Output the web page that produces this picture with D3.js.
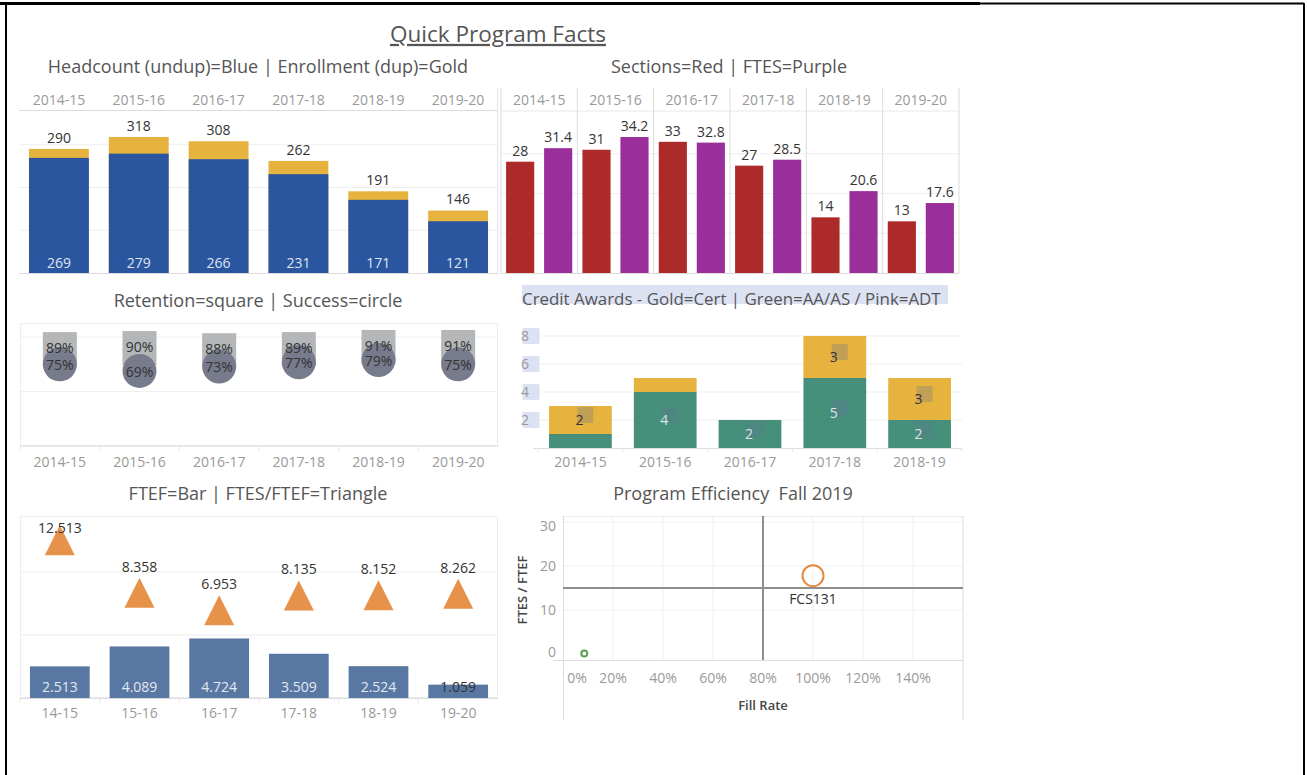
<!DOCTYPE html>
<html>
<head>
<meta charset="utf-8">
<script src="https://cdn.jsdelivr.net/npm/d3@7"></script>
<style>
	body { margin: 0; background: #fff; }
	svg { display: block; font-family: "Open Sans", sans-serif; }
	text { white-space: pre; }
</style>
</head>
<body>
<svg id="chart" width="1307" height="775"></svg>
<script>
/*
	Quick Program Facts
	===================
	Six small tableau-style panels drawn with d3
*/

// ---- data ----
const years = ["2014-15", "2015-16", "2016-17", "2017-18", "2018-19", "2019-20"];
const shortYears = ["14-15", "15-16", "16-17", "17-18", "18-19", "19-20"];
const headcount = [269, 279, 266, 231, 171, 121];
const enrollment = [290, 318, 308, 262, 191, 146];
const sections = [28, 31, 33, 27, 14, 13];
const ftes = [31.4, 34.2, 32.8, 28.5, 20.6, 17.6];
const retention = [0.89, 0.90, 0.88, 0.89, 0.91, 0.91];
const success = [0.75, 0.69, 0.73, 0.77, 0.79, 0.75];
const awardYears = ["2014-15", "2015-16", "2016-17", "2017-18", "2018-19"];
const degreeAwards = [1, 4, 2, 5, 2];
const certAwards = [2, 1, 0, 3, 3];
const awardTicks = [2, 4, 6, 8];
const ftef = [2.513, 4.089, 4.724, 3.509, 2.524, 1.059];
const ftesPerFtef = [12.513, 8.358, 6.953, 8.135, 8.152, 8.262];
const programs = ["FCS131", ""];
const fillRate = [1.0, 0.085];
const efficiency = [17.8, 0.1];
const fillTicks = [0, 0.2, 0.4, 0.6, 0.8, 1.0, 1.2, 1.4];
const effTicks = [0, 10, 20, 30];

const COLORS = {
	blue: "#2a56a0", gold: "#e6b33e", red: "#ad2a2b", purple: "#9a2e9a",
	square: "#b4b6b7", circle: "#777b8b", green: "#46907b", steel: "#5878a3",
	tri: "#e6924a", title: "#555", axis: "#999", label: "#333",
	grid: "#efefef", line: "#dcdcdc"
};
const FS = 14;       // small text
const TFS = 18;      // panel titles

const svg = d3.select("#chart");

function hline(g, x1, x2, y, color, w){
	g.append("line").attr("x1", x1).attr("x2", x2).attr("y1", y).attr("y2", y)
		.attr("stroke", color).attr("stroke-width", w || 1);
}
function vline(g, x, y1, y2, color, w){
	g.append("line").attr("x1", x).attr("x2", x).attr("y1", y1).attr("y2", y2)
		.attr("stroke", color).attr("stroke-width", w || 1);
}
function label(g, x, y, txt, size, color, anchor){
	return g.append("text").attr("x", x).attr("y", y).attr("dy", "0.35em")
		.attr("text-anchor", anchor || "middle").attr("font-size", size)
		.attr("fill", color).text(txt);
}

// frame
hline(svg, 0, 980, 3.5, "#000", 3);
hline(svg, 980, 1304, 3.5, "#000", 2);
vline(svg, 6, 3, 775, "#000", 2);
vline(svg, 1304, 3, 775, "#000", 2);

label(svg, 498, 34, "Quick Program Facts", 22.5, COLORS.title).attr("text-decoration", "underline");

// ---- headcount / enrollment ----
const g1 = svg.append("g");
label(g1, 258, 67, "Headcount (undup)=Blue | Enrollment (dup)=Gold", TFS, COLORS.title);
const x1 = d3.scaleBand().domain(years).range([19, 498]).paddingInner(0.25).paddingOuter(0.125);
const y1 = d3.scaleLinear().domain([0, 374]).range([273, 113]);
[100, 200, 300].forEach(t => hline(g1, 19, 498, y1(t), COLORS.grid));
hline(g1, 19, 498, 110.5, COLORS.line);
hline(g1, 19, 498, 273.5, COLORS.line);
years.forEach(y => label(g1, x1(y) + x1.bandwidth() / 2, 100, y, FS, COLORS.axis));
g1.selectAll(".enr").data(years).enter().append("rect")
	.attr("x", d => x1(d)).attr("width", x1.bandwidth())
	.attr("y", (d, i) => y1(enrollment[i])).attr("height", (d, i) => y1(0) - y1(enrollment[i]))
	.attr("fill", COLORS.gold);
g1.selectAll(".hc").data(years).enter().append("rect")
	.attr("x", d => x1(d)).attr("width", x1.bandwidth())
	.attr("y", (d, i) => y1(headcount[i])).attr("height", (d, i) => y1(0) - y1(headcount[i]))
	.attr("fill", COLORS.blue);
years.forEach((y, i) => {
	const cx = x1(y) + x1.bandwidth() / 2;
	label(g1, cx, y1(enrollment[i]) - 11, enrollment[i], FS, COLORS.label);
	label(g1, cx, 263, headcount[i], FS, "#dfe4ee");
});

// ---- sections / ftes ----
const g2 = svg.append("g");
label(g2, 729, 67, "Sections=Red | FTES=Purple", TFS, COLORS.title);
const x2 = d3.scaleBand().domain(years).range([501, 959]);
const x2i = d3.scaleBand().domain(["sections", "ftes"]).range([0, x2.bandwidth()]).paddingInner(0.26).paddingOuter(0.134);
const y2 = d3.scaleLinear().domain([0, 40.25]).range([273, 113]);
[10, 20, 30].forEach(t => hline(g2, 501, 959, y2(t), COLORS.grid));
hline(g2, 501, 959, 111, "#e8e8e8");
hline(g2, 501, 959, 273.5, COLORS.line);
years.forEach(y => vline(g2, x2(y), 88, 274, COLORS.line));
vline(g2, 959, 88, 274, COLORS.line);
vline(g2, 497.5, 88, 274, "#e4e4e4");
years.forEach((y, i) => {
	label(g2, x2(y) + x2.bandwidth() / 2, 100, y, FS, COLORS.axis);
	const vals = [["sections", sections[i], COLORS.red], ["ftes", ftes[i], COLORS.purple]];
	vals.forEach(([k, v, c]) => {
		g2.append("rect").attr("x", x2(y) + x2i(k)).attr("width", x2i.bandwidth())
			.attr("y", y2(v)).attr("height", y2(0) - y2(v)).attr("fill", c);
		label(g2, x2(y) + x2i(k) + x2i.bandwidth() / 2, y2(v) - 11, v, FS, COLORS.label);
	});
});

// ---- retention / success ----
const g3 = svg.append("g");
label(g3, 258, 301, "Retention=square | Success=circle", TFS, COLORS.title);
const x3 = d3.scaleBand().domain(years).range([20, 498]);
const y3 = d3.scaleLinear().domain([0, 1.13]).range([446, 323]);
g3.append("rect").attr("x", 20.5).attr("y", 323.5).attr("width", 477).attr("height", 122)
	.attr("fill", "none").attr("stroke", "#ececec");
[0.5, 1.0].forEach(t => hline(g3, 20, 498, y3(t), COLORS.grid));
hline(g3, 20, 498, 446, COLORS.line);
years.forEach(y => vline(g3, x3(y), 446, 451, "#e6e6e6"));
years.forEach(y => label(g3, x3(y) + x3.bandwidth() / 2, 462, y, FS, COLORS.axis));
const sq = 34;
g3.selectAll(".sq").data(years).enter().append("rect")
	.attr("x", d => x3(d) + x3.bandwidth() / 2 - sq / 2)
	.attr("y", (d, i) => y3(retention[i]) - sq / 2)
	.attr("width", sq).attr("height", sq).attr("fill", COLORS.square);
g3.selectAll(".ci").data(years).enter().append("circle")
	.attr("cx", d => x3(d) + x3.bandwidth() / 2)
	.attr("cy", (d, i) => y3(success[i])).attr("r", 17).attr("fill", COLORS.circle);
const pct = d3.format(".0%");
years.forEach((y, i) => {
	const cx = x3(y) + x3.bandwidth() / 2;
	label(g3, cx, y3(retention[i]) - 1, pct(retention[i]), FS, COLORS.label);
	label(g3, cx, y3(success[i]) + 1, pct(success[i]), FS, COLORS.label);
});

// ---- credit awards ----
const g4 = svg.append("g");
g4.append("rect").attr("x", 522).attr("y", 285).attr("width", 426).attr("height", 19).attr("fill", "#dde2f3");
label(g4, 522, 299, "Credit Awards - Gold=Cert | Green=AA/AS / Pink=ADT", 16.9, COLORS.title, "start");
const x4 = d3.scaleBand().domain(awardYears).range([538, 962]).paddingInner(0.26).paddingOuter(0.13);
const y4 = d3.scaleLinear().domain([0, 9]).range([448, 322]);
awardTicks.forEach(t => {
	hline(g4, 540, 962, y4(t), COLORS.grid);
	g4.append("rect").attr("x", 522.5).attr("y", y4(t) - 8).attr("width", 17).attr("height", 16).attr("fill", "#dde2f3");
	label(g4, 525, y4(t), t, FS, COLORS.axis);
});
hline(g4, 533, 962, 448.5, COLORS.line);
awardYears.forEach(y => vline(g4, x4(y) - x4.step() * 0.13, 448, 452, "#e6e6e6"));
vline(g4, 962, 448, 452, "#e6e6e6");
awardYears.forEach(y => label(g4, x4(y) + x4.bandwidth() / 2, 462.5, y, FS, COLORS.axis));
const stack = d3.stack().keys(["degree", "cert"])(awardYears.map((y, i) => ({year: y, degree: degreeAwards[i], cert: certAwards[i]})));
const awardColor = {degree: COLORS.green, cert: COLORS.gold};
stack.forEach(layer => {
	layer.forEach((seg, i) => {
		const v = seg[1] - seg[0];
		if(v <= 0) return;
		const y = awardYears[i];
		g4.append("rect").attr("x", x4(y)).attr("width", x4.bandwidth())
			.attr("y", y4(seg[1])).attr("height", y4(seg[0]) - y4(seg[1]))
			.attr("fill", awardColor[layer.key]);
	});
});
stack.forEach(layer => {
	layer.forEach((seg, i) => {
		const v = seg[1] - seg[0];
		if(v < 2) return;
		const cx = x4(awardYears[i]) + x4.bandwidth() / 2;
		const cy = y4((seg[0] + seg[1]) / 2);
		g4.append("rect").attr("x", cx - 3).attr("y", cy - 13).attr("width", 16).attr("height", 16)
			.attr("fill", "#646a9a").attr("opacity", 0.28);
		label(g4, cx - 1, cy, v, FS, layer.key == "cert" ? COLORS.label : "#dde6e6");
	});
});

// ---- ftef / ftes per ftef ----
const g5 = svg.append("g");
label(g5, 258, 494, "FTEF=Bar | FTES/FTEF=Triangle", TFS, COLORS.title);
const x5 = d3.scaleBand().domain(shortYears).range([20, 498]).paddingInner(0.25).paddingOuter(0.125);
const y5 = d3.scaleLinear().domain([0, 14.44]).range([698, 516]);
g5.append("rect").attr("x", 20.5).attr("y", 516.5).attr("width", 477).attr("height", 181)
	.attr("fill", "none").attr("stroke", "#ececec");
[5, 10].forEach(t => hline(g5, 20, 498, y5(t), COLORS.grid));
hline(g5, 20, 498, 698.5, COLORS.line);
shortYears.forEach(y => vline(g5, x5(y) - x5.step() * 0.125, 698, 703, "#e6e6e6"));
shortYears.forEach(y => label(g5, x5(y) + x5.bandwidth() / 2, 713, y, FS, COLORS.axis));
g5.selectAll(".ftef").data(shortYears).enter().append("rect")
	.attr("x", d => x5(d)).attr("width", x5.bandwidth())
	.attr("y", (d, i) => y5(ftef[i])).attr("height", (d, i) => y5(0) - y5(ftef[i]))
	.attr("fill", COLORS.steel);
const tri = d3.line();
shortYears.forEach((y, i) => {
	const cx = x5(y) + x5.bandwidth() / 2;
	const cy = y5(ftesPerFtef[i]);
	g5.append("path").attr("d", tri([[cx - 15, cy + 15], [cx, cy - 15], [cx + 15, cy + 15]]) + "Z")
		.attr("fill", COLORS.tri);
	label(g5, cx, Math.max(cy - 26, 528), ftesPerFtef[i].toFixed(3), FS, COLORS.label);
	label(g5, cx, 687, ftef[i].toFixed(3), FS, y5(ftef[i]) > 675 ? COLORS.label : "#e4e8f0");
});

// ---- program efficiency scatter ----
const g6 = svg.append("g");
label(g6, 733, 494, "Program Efficiency  Fall 2019", TFS, COLORS.title);
const x6 = d3.scaleLinear().domain([0, 1.6]).range([563, 963]);
const y6 = d3.scaleLinear().domain([0, 30]).range([654, 522]);
hline(g6, 563, 963, 516.5, "#ececec");
fillTicks.slice(1).forEach(t => vline(g6, x6(t), 516, 660, COLORS.grid));
effTicks.slice(1).forEach(t => hline(g6, 563, 963, y6(t), COLORS.grid));
vline(g6, 563.5, 516, 720, COLORS.line);
vline(g6, 963, 516, 720, COLORS.line);
hline(g6, 553, 963, 660.5, COLORS.line);
vline(g6, x6(0.8), 516, 660, "#8e8e8e", 2);
hline(g6, 563, 963, y6(15), "#8e8e8e", 2);
effTicks.forEach(t => label(g6, 556, Math.min(Math.max(y6(t), 526), 652), t, FS, COLORS.axis, "end"));
fillTicks.forEach(t => label(g6, Math.max(x6(t), 577), 678, pct(t), FS, COLORS.axis));
g6.append("text").attr("transform", "translate(527,590) rotate(-90)").attr("text-anchor", "middle")
	.attr("font-size", 13).attr("font-weight", 600).attr("fill", "#444").text("FTES / FTEF");
label(g6, 763, 705, "Fill Rate", 13, "#444").attr("font-weight", 600);
const ptColor = [ "#e8883b", "#59a14f" ];
const ptR = [10.5, 3];
programs.forEach((p, i) => {
	g6.append("circle").attr("cx", x6(fillRate[i])).attr("cy", y6(efficiency[i])).attr("r", ptR[i])
		.attr("fill", "none").attr("stroke", ptColor[i]).attr("stroke-width", 2);
	if(p) label(g6, x6(fillRate[i]), y6(efficiency[i]) + 23, p, FS, COLORS.label);
});
</script>
</body>
</html>
